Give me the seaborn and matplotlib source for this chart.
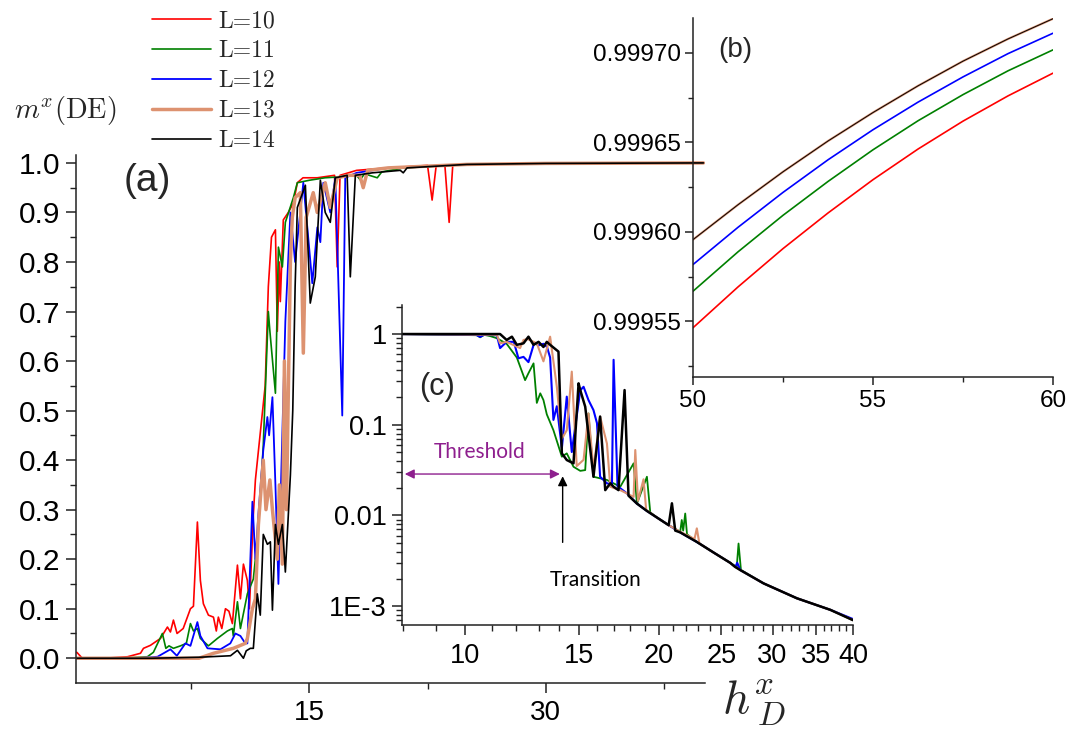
import numpy as np
import pandas as pd
import matplotlib
matplotlib.use("Agg")
import matplotlib.pyplot as plt
import seaborn as sns
from matplotlib.ticker import FixedLocator, FixedFormatter, NullFormatter

# ---------------- data: panel (a) ----------------
series_labels = ["L=10", "L=11", "L=12", "L=13", "L=14"]
series_colors = ["#ff0000", "#008000", "#0000ff", "#dd9270", "#000000"]

a_h_L10 = [0.25, 0.6, 2.0, 3.47, 4.29, 4.48, 4.92, 5.56, 6.0, 6.19, 6.38, 6.61, 7.0, 7.46, 7.65, 7.9, 8.09, 8.28,
           8.6, 8.92, 9.1, 9.23, 9.45, 9.68, 9.9, 10.12, 10.44, 10.63, 10.82, 11.07, 11.2, 11.45, 11.58, 12.2,
           12.4, 12.6, 12.85, 12.97, 13.1, 13.16, 13.35, 13.67, 14.0, 14.24, 14.6, 15.5, 16.6, 16.77, 16.95, 18.0,
           20.0, 22.5, 22.79, 23.05, 23.6, 23.87, 24.1, 27.0, 33.0, 40.0]
a_m_L10 = [0.012, 0.0, 0.0, 0.003, 0.01, 0.02, 0.026, 0.04, 0.063, 0.053, 0.077, 0.05, 0.06, 0.10, 0.105, 0.275,
           0.157, 0.11, 0.087, 0.083, 0.055, 0.083, 0.06, 0.10, 0.095, 0.07, 0.188, 0.12, 0.19, 0.157, 0.10, 0.29,
           0.36, 0.55, 0.75, 0.85, 0.865, 0.66, 0.80, 0.72, 0.885, 0.90, 0.92, 0.96, 0.97, 0.97, 0.975, 0.79,
           0.975, 0.985, 0.99, 0.995, 0.925, 0.995, 0.995, 0.88, 0.996, 0.998, 1.0, 1.0]

a_h_L11 = [0.25, 3.0, 4.73, 5.11, 5.68, 5.9, 6.1, 6.38, 6.83, 7.2, 7.46, 7.65, 7.9, 8.09, 8.6, 9.17, 9.8, 10.12,
           10.18, 10.44, 10.63, 11.07, 11.45, 11.77, 12.08, 12.4, 12.5, 12.85, 13.04, 13.29, 13.48, 13.99, 14.24,
           15.0, 16.0, 17.0, 18.0, 18.23, 18.5, 19.31, 19.6, 21.0, 25.0, 30.0, 40.0]
a_m_L11 = [0.0, 0.0, 0.003, 0.012, 0.05, 0.02, 0.025, 0.02, 0.025, 0.03, 0.07, 0.055, 0.06, 0.04, 0.025, 0.04,
           0.055, 0.06, 0.045, 0.114, 0.06, 0.13, 0.16, 0.26, 0.43, 0.70, 0.66, 0.535, 0.83, 0.79, 0.88, 0.93,
           0.96, 0.965, 0.97, 0.972, 0.975, 0.966, 0.978, 0.97, 0.982, 0.99, 0.997, 0.999, 1.0]

a_h_L12 = [0.25, 4.0, 5.37, 6.19, 6.6, 7.14, 7.46, 7.9, 8.09, 8.54, 9.36, 9.99, 10.31, 10.63, 10.94, 11.07, 11.39,
           11.58, 11.77, 12.08, 12.34, 12.45, 12.66, 12.85, 13.04, 13.16, 13.48, 13.8, 14.1, 14.62, 15.19, 15.51,
           15.7, 15.89, 16.33, 16.65, 17.09, 17.28, 18.0, 20.0, 25.0, 30.0, 40.0]
a_m_L12 = [0.0, 0.0, 0.003, 0.018, 0.005, 0.03, 0.025, 0.073, 0.045, 0.02, 0.018, 0.03, 0.05, 0.045, 0.03, 0.03,
           0.316, 0.20, 0.29, 0.42, 0.487, 0.45, 0.527, 0.35, 0.15, 0.30, 0.68, 0.90, 0.80, 0.96, 0.757, 0.87,
           0.84, 0.96, 0.90, 0.97, 0.49, 0.97, 0.98, 0.99, 0.997, 0.999, 1.0]

a_h_L13 = [0.25, 8.0, 8.92, 10.18, 10.94, 11.07, 11.39, 11.58, 11.77, 12.08, 12.25, 12.5, 12.66, 12.97, 13.1,
           13.29, 13.42, 13.55, 13.8, 13.92, 14.1, 14.43, 14.62, 14.8, 15.25, 15.5, 16.01, 16.33, 16.77, 17.5,
           18.2, 18.42, 18.7, 20.0, 25.0, 30.0, 40.0]
a_m_L13 = [0.0, 0.0, 0.01, 0.02, 0.03, 0.04, 0.10, 0.12, 0.27, 0.40, 0.30, 0.36, 0.30, 0.20, 0.35, 0.19, 0.60,
           0.30, 0.80, 0.89, 0.93, 0.94, 0.616, 0.89, 0.94, 0.90, 0.96, 0.91, 0.97, 0.975, 0.975, 0.95, 0.985,
           0.99, 0.997, 0.999, 1.0]

a_h_L14 = [0.25, 5.0, 8.0, 10.0, 10.44, 10.82, 11.0, 11.26, 11.45, 11.7, 11.89, 12.08, 12.34, 12.53, 12.66, 12.85,
           13.04, 13.29, 13.48, 13.8, 13.95, 14.1, 14.24, 14.75, 15.06, 15.38, 15.7, 16.01, 16.33, 16.65, 17.4,
           17.6, 17.92, 19.0, 20.77, 20.96, 21.2, 25.0, 30.0, 40.0]
a_m_L14 = [0.0, 0.0, 0.002, 0.005, 0.016, 0.0, 0.015, 0.02, 0.02, 0.13, 0.087, 0.25, 0.23, 0.235, 0.097, 0.27,
           0.23, 0.27, 0.174, 0.37, 0.50, 0.75, 0.91, 0.955, 0.717, 0.77, 0.965, 0.90, 0.88, 0.97, 0.975, 0.77,
           0.975, 0.98, 0.985, 0.98, 0.99, 0.997, 0.999, 1.0]

# ---------------- data: panel (b) ----------------
b_h = [50.0, 51.25, 52.5, 53.75, 55.0, 56.25, 57.5, 58.75, 60.0]
b_m_L10 = [0.9995465, 0.9995693, 0.9995907, 0.9996106, 0.9996292, 0.9996463, 0.9996619, 0.9996760, 0.9996887]
b_m_L11 = [0.9995669, 0.9995889, 0.9996093, 0.9996282, 0.9996459, 0.9996621, 0.9996767, 0.9996900, 0.9997017]
b_m_L12 = [0.9995818, 0.9996026, 0.9996221, 0.9996403, 0.9996571, 0.9996725, 0.9996866, 0.9996996, 0.9997110]
b_m_L13 = [0.9995957, 0.9996152, 0.9996336, 0.9996508, 0.9996667, 0.9996816, 0.9996954, 0.9997078, 0.9997191]
b_m_L14 = [0.9995957, 0.9996152, 0.9996336, 0.9996508, 0.9996667, 0.9996816, 0.9996954, 0.9997078, 0.9997191]

# ---------------- data: panel (c) ----------------
c_h_L11 = [7.98, 10.43, 10.55, 10.7, 10.93, 11.2, 11.6, 12.03, 12.39, 12.54, 12.77, 12.92, 13.08, 13.23, 13.39,
           13.71, 14.13, 14.38, 14.73, 15.09, 15.36, 15.54, 15.82, 16.6, 17.41, 18.26, 18.48, 19.15, 19.38, 19.84,
           20.7, 21.57, 21.69, 21.8, 21.96, 22.1, 22.89, 24.3, 25.79, 26.4, 26.57, 26.8, 29.06, 32.73, 36.88, 40.0]
c_v_L11 = [1.0, 0.97, 0.92, 0.98, 0.95, 0.90, 0.78, 0.55, 0.31, 0.37, 0.475, 0.174, 0.222, 0.187, 0.13, 0.087,
           0.0444, 0.0483, 0.0344, 0.031, 0.0316, 0.133, 0.0267, 0.0246, 0.0207, 0.0375, 0.0135, 0.0267, 0.0108,
           0.0095, 0.0078, 0.0066, 0.0089, 0.0068, 0.0105, 0.0062, 0.0051, 0.0039, 0.0030, 0.0027, 0.0049, 0.0025,
           0.00178, 0.00122, 0.00091, 0.0007]

c_h_L12 = [7.98, 10.4, 10.55, 10.7, 11.2, 11.33, 11.6, 11.9, 12.1, 12.32, 12.54, 12.8, 13.0, 13.23, 13.4, 13.55,
           13.71, 13.88, 14.13, 14.38, 14.64, 15.09, 15.27, 15.54, 15.82, 16.02, 16.2, 16.6, 16.9, 17.0, 17.24,
           17.83, 18.48, 19.15, 19.84, 20.7, 21.57, 22.89, 24.3, 25.79, 26.26, 26.45, 26.73, 29.06, 32.73, 36.88,
           40.0]
c_v_L12 = [1.0, 0.98, 0.93, 0.98, 0.97, 0.70, 0.82, 0.82, 0.54, 0.56, 0.49, 0.80, 0.75, 0.78, 0.72, 0.55, 0.113,
           0.16, 0.055, 0.204, 0.05, 0.24, 0.262, 0.187, 0.145, 0.104, 0.0267, 0.0226, 0.022, 0.52, 0.021, 0.0175,
           0.0135, 0.0112, 0.0095, 0.0078, 0.0065, 0.0051, 0.0039, 0.0030, 0.0027, 0.0030, 0.0025, 0.00178,
           0.00122, 0.00091, 0.00072]

c_h_L13 = [7.98, 11.2, 11.33, 11.6, 12.17, 12.32, 12.5, 12.92, 13.23, 13.55, 13.88, 14.13, 14.38, 14.64, 14.9,
           15.27, 15.54, 15.82, 16.2, 16.6, 16.8, 17.41, 17.68, 18.26, 18.37, 18.55, 18.92, 19.1, 19.84, 20.7,
           21.57, 22.7, 22.89, 23.1, 24.3, 25.79, 26.26, 26.73, 29.06, 32.73, 36.88, 40.0]
c_v_L13 = [1.0, 0.98, 0.79, 0.82, 0.70, 0.86, 0.88, 0.79, 0.50, 0.935, 0.26, 0.07, 0.087, 0.385, 0.035, 0.041,
           0.133, 0.032, 0.123, 0.062, 0.0207, 0.019, 0.018, 0.016, 0.0526, 0.0145, 0.025, 0.0115, 0.0095, 0.0078,
           0.0066, 0.0055, 0.0072, 0.0049, 0.0039, 0.0030, 0.0027, 0.0025, 0.00178, 0.00122, 0.00091, 0.0007]

c_h_L14 = [7.98, 11.2, 11.33, 11.6, 11.82, 12.03, 12.32, 12.54, 12.77, 13.0, 13.23, 13.39, 13.55, 13.96, 14.13,
           14.38, 14.73, 15.0, 15.09, 15.36, 15.82, 16.2, 16.5, 16.8, 17.0, 17.3, 17.68, 17.93, 18.48, 19.15,
           19.84, 20.7, 20.94, 21.19, 21.57, 22.89, 24.3, 25.79, 26.26, 26.73, 29.06, 32.73, 36.88, 40.0]
c_v_L14 = [1.0, 1.0, 1.0, 0.86, 0.935, 0.76, 0.79, 0.935, 0.76, 0.82, 0.72, 0.82, 0.76, 0.64, 0.0483, 0.0408,
           0.0375, 0.286, 0.241, 0.158, 0.0267, 0.123, 0.019, 0.0226, 0.0207, 0.019, 0.241, 0.0165, 0.0135, 0.0112,
           0.0095, 0.0078, 0.0136, 0.0068, 0.0065, 0.0051, 0.0039, 0.0030, 0.0027, 0.0025, 0.00178, 0.00122,
           0.00091, 0.0007]

# ticks / labels
a_xticks = [15, 30]
a_xminor = [7.5, 22.5, 37.5]
a_yticks = [0.0, 0.1, 0.2, 0.3, 0.4, 0.5, 0.6, 0.7, 0.8, 0.9, 1.0]
a_yminor = [0.05, 0.15, 0.25, 0.35, 0.45, 0.55, 0.65, 0.75, 0.85, 0.95]
b_xticks = [50, 55, 60]
b_xminor = [52.5, 57.5]
b_yticks = [0.99955, 0.99960, 0.99965, 0.99970]
b_yminor = [0.999525, 0.999575, 0.999625, 0.999675]
c_xticks = [10, 15, 20, 25, 30, 35, 40]
c_xminor = [8, 9, 11, 12, 13, 14, 16, 17, 18, 19, 21, 22, 23, 24, 26, 27, 28, 29, 31, 32, 33, 34, 36, 37, 38, 39]
c_yticks = [1, 0.1, 0.01, 0.001]
c_ylabels = ["1", "0.1", "0.01", "1E-3"]
c_yminor = [0.0007, 0.0008, 0.0009, 0.002, 0.003, 0.004, 0.005, 0.006, 0.007, 0.008, 0.009,
            0.02, 0.03, 0.04, 0.05, 0.06, 0.07, 0.08, 0.09, 0.2, 0.3, 0.4, 0.5, 0.6, 0.7, 0.8, 0.9, 2.0]

# ---------------- style ----------------
sns.set_theme(style="ticks")
plt.rcParams['font.family'] = ['Liberation Sans', 'DejaVu Sans']
plt.rcParams['mathtext.fontset'] = 'cm'
plt.rcParams['axes.linewidth'] = 1.1
plt.rcParams['axes.edgecolor'] = '#222222'

fig = plt.figure(figsize=(10.69, 7.33), dpi=100)
W, H = 1069.0, 733.0


def ax_rect(l, r, t, b):
    return [l / W, 1 - b / H, (r - l) / W, (b - t) / H]


def style_axes(ax, major_len, minor_len, size, pad):
    for s in ['top', 'right']:
        ax.spines[s].set_visible(False)
    ax.tick_params(which='major', direction='out', length=major_len, width=1.1, labelsize=size,
                   pad=pad, color='#222222', labelcolor='black')
    ax.tick_params(which='minor', direction='out', length=minor_len, width=1.0, color='#222222')
    ax.set_facecolor('none')
    ax.grid(False)


# ---------------- panel (a) ----------------
ax = fig.add_axes(ax_rect(76, 705, 155, 683))
a_data = [(a_h_L10, a_m_L10), (a_h_L11, a_m_L11), (a_h_L12, a_m_L12), (a_h_L13, a_m_L13), (a_h_L14, a_m_L14)]
a_lw = [1.2, 1.2, 1.3, 2.5, 1.2]
handles = []
for (hx, my), col, lw, lab in zip(a_data, series_colors, a_lw, series_labels):
    df = pd.DataFrame({"h": hx, "m": my})
    sns.lineplot(data=df, x="h", y="m", ax=ax, color=col, lw=lw, estimator=None, sort=False, legend=False)
    line = ax.lines[-1]
    line.set_label(lab)
    handles.append(line)

ax.set_xlim(0.2, 40.1)
ax.set_ylim(-0.05, 1.016)
ax.xaxis.set_major_locator(FixedLocator(a_xticks))
ax.xaxis.set_minor_locator(FixedLocator(a_xminor))
ax.yaxis.set_major_locator(FixedLocator(a_yticks))
ax.yaxis.set_minor_locator(FixedLocator(a_yminor))
ax.yaxis.set_major_formatter(FixedFormatter([f"{v:.1f}" for v in a_yticks]))
ax.xaxis.set_major_formatter(FixedFormatter([str(v) for v in a_xticks]))
ax.set_xlabel("")
ax.set_ylabel("")
style_axes(ax, 7, 4, 21.5, 4)
ax.tick_params(axis='x', which='major', pad=5, labelsize=20)

ax.text(147 / W, 1 - 181 / H, "(a)", transform=fig.transFigure, fontsize=28, ha='center', va='center')

fig.text(14 / W, 1 - 118 / H, r'$m^{x}(\mathrm{DE})$', fontsize=20.5, ha='left', va='baseline')
fig.text(722 / W, 1 - 713 / H, r'$h^{x}_{\;D}$', fontsize=34, ha='left', va='baseline')

leg = fig.legend(handles=handles, labels=series_labels, loc='upper left',
                 bbox_to_anchor=(152 / W, 1 - 10 / H), frameon=False, borderpad=0, borderaxespad=0,
                 handlelength=2.5, handletextpad=0.3, labelspacing=0.33,
                 prop={'family': 'cmr10', 'size': 17})

# ---------------- panel (b) ----------------
axb = fig.add_axes(ax_rect(693, 1053, 18, 377))
b_data = [b_m_L10, b_m_L11, b_m_L12, b_m_L13, b_m_L14]
b_lw = [1.2, 1.2, 1.2, 1.6, 0.7]
for my, col, lw in zip(b_data, series_colors, b_lw):
    df = pd.DataFrame({"h": b_h, "m": my})
    sns.lineplot(data=df, x="h", y="m", ax=axb, color=col, lw=lw, estimator=None, sort=False, legend=False)
axb.set_xlim(50, 60)
axb.set_ylim(0.999519, 0.9997195)
axb.xaxis.set_major_locator(FixedLocator(b_xticks))
axb.xaxis.set_minor_locator(FixedLocator(b_xminor))
axb.yaxis.set_major_locator(FixedLocator(b_yticks))
axb.yaxis.set_minor_locator(FixedLocator(b_yminor))
axb.yaxis.set_major_formatter(FixedFormatter([f"{v:.5f}" for v in b_yticks]))
axb.xaxis.set_major_formatter(FixedFormatter([str(v) for v in b_xticks]))
axb.set_xlabel("")
axb.set_ylabel("")
style_axes(axb, 6, 3.5, 17.5, 3)
axb.text(735 / W, 1 - 50 / H, "(b)", transform=fig.transFigure, fontsize=20, ha='center', va='center')

# ---------------- panel (c) ----------------
axc = fig.add_axes(ax_rect(402, 853, 305, 625))
c_data = [(c_h_L11, c_v_L11, series_colors[1], 1.3), (c_h_L12, c_v_L12, series_colors[2], 1.5),
          (c_h_L13, c_v_L13, series_colors[3], 1.5), (c_h_L14, c_v_L14, series_colors[4], 1.8)]
for hx, vy, col, lw in c_data:
    df = pd.DataFrame({"h": hx, "v": vy})
    sns.lineplot(data=df, x="h", y="v", ax=axc, color=col, lw=lw, estimator=None, sort=False, legend=False)
axc.set_xscale('log')
axc.set_yscale('log')
axc.set_xlim(7.98, 40)
axc.set_ylim(6.19e-4, 2.09)
axc.xaxis.set_major_locator(FixedLocator(c_xticks))
axc.xaxis.set_minor_locator(FixedLocator(c_xminor))
axc.xaxis.set_major_formatter(FixedFormatter([str(v) for v in c_xticks]))
axc.xaxis.set_minor_formatter(NullFormatter())
axc.yaxis.set_major_locator(FixedLocator(c_yticks))
axc.yaxis.set_major_formatter(FixedFormatter(c_ylabels))
axc.yaxis.set_minor_locator(FixedLocator(c_yminor))
axc.yaxis.set_minor_formatter(NullFormatter())
axc.set_xlabel("")
axc.set_ylabel("")
style_axes(axc, 7, 4, 19.5, 4)
axc.tick_params(axis='x', which='major', pad=6)

axc.text(9.05, 0.26, "(c)", fontsize=22, ha='center', va='center')
purple = '#8e1f8e'
axc.annotate("", xy=(7.98, 0.0286), xytext=(14.17, 0.0286),
             arrowprops=dict(arrowstyle='<|-|>', color=purple, lw=1.0, mutation_scale=14))
axc.text(10.55, 0.05, "Threshold", color=purple, fontsize=15, ha='center', va='center', family='Lato')
axc.annotate("", xy=(14.17, 0.029), xytext=(14.17, 0.0047),
             arrowprops=dict(arrowstyle='-|>', color='black', lw=1.0, mutation_scale=14))
axc.text(15.92, 0.00194, "Transition", color='black', fontsize=15, ha='center', va='center', family='Lato')

fig.savefig("out.png", dpi=100)
